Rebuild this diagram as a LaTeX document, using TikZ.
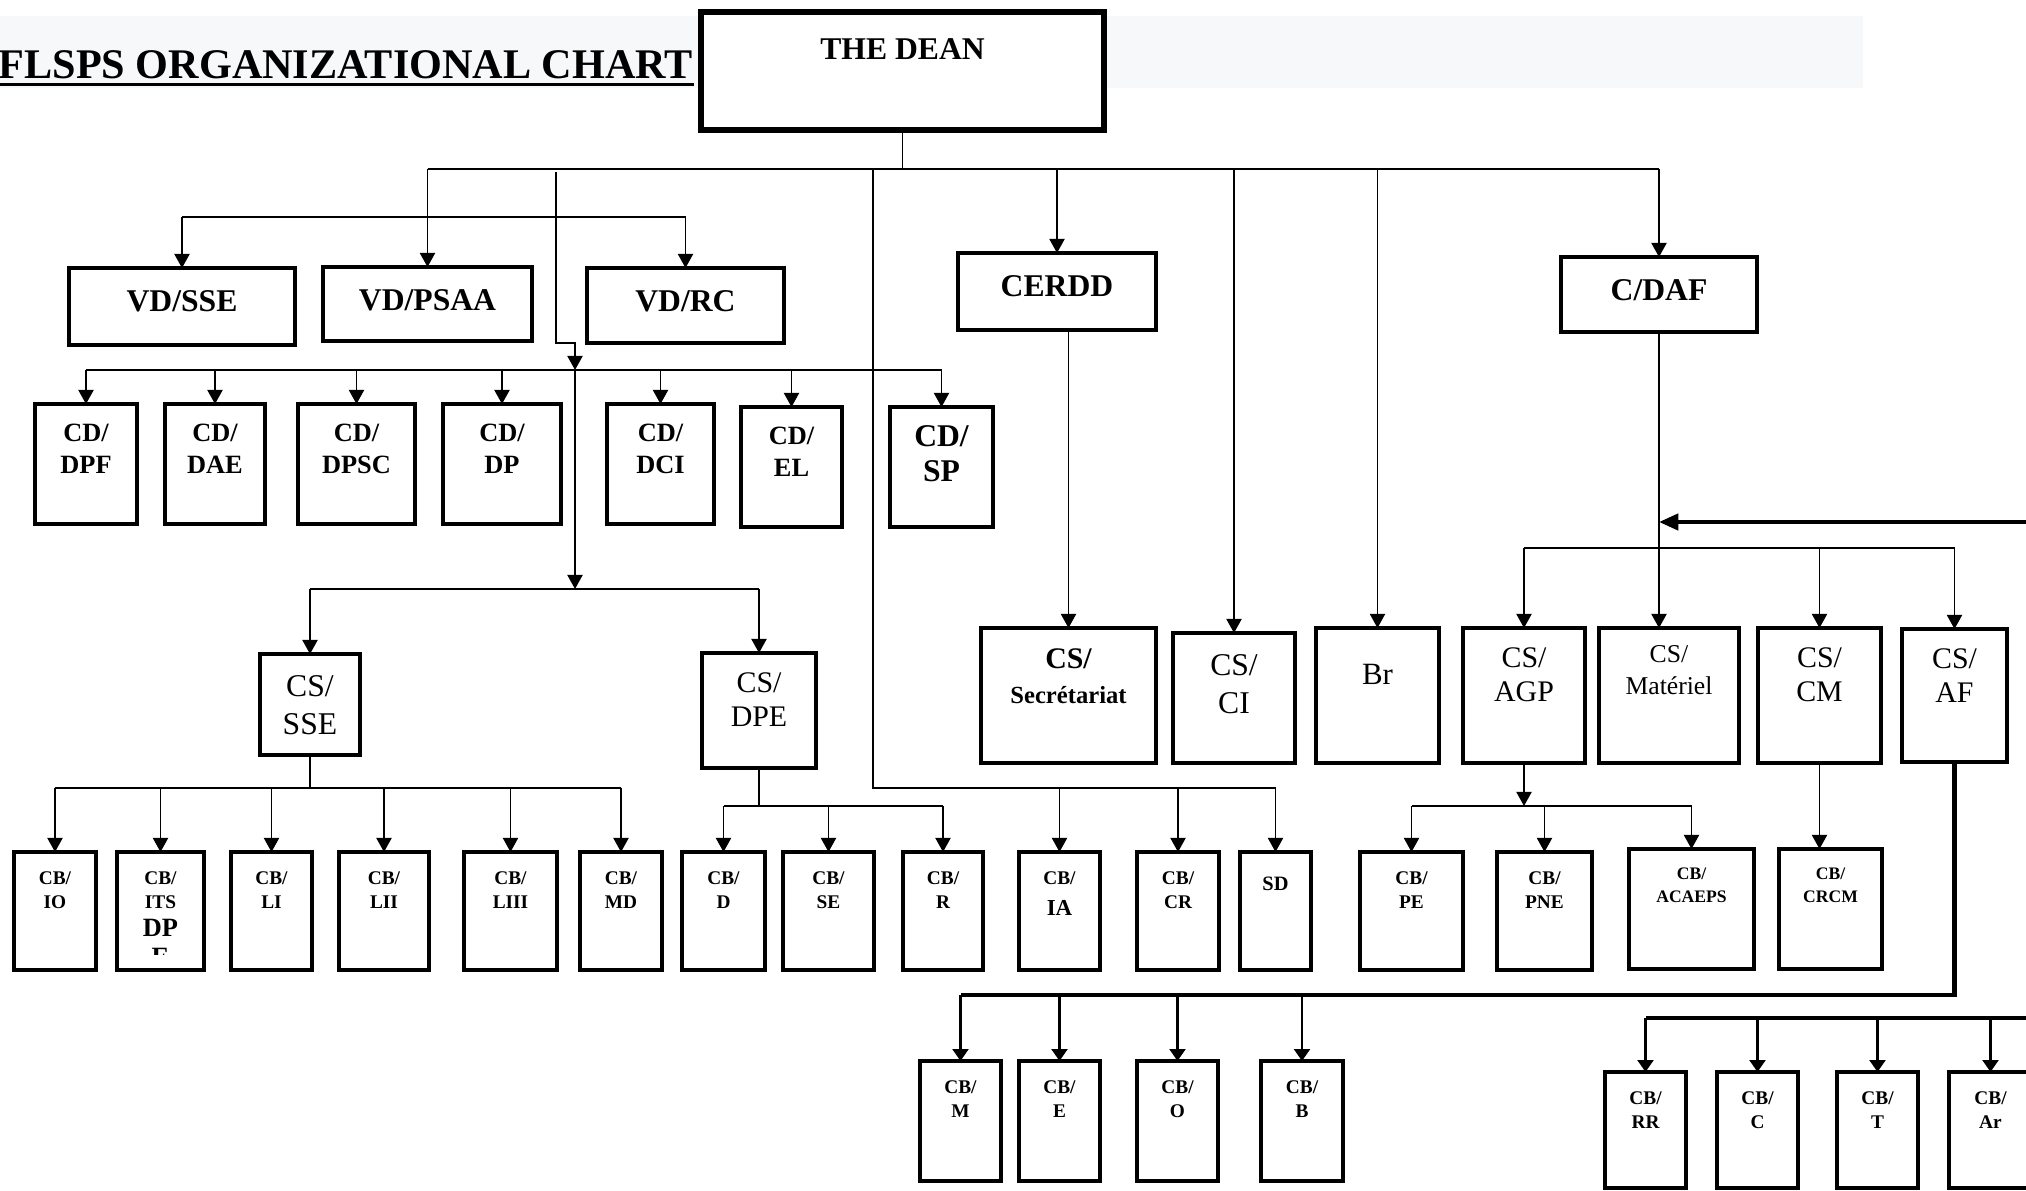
\documentclass[tikz,border=0pt]{standalone}
\usepackage{fontspec}
\setmainfont{Liberation Serif}
\usetikzlibrary{arrows.meta}
\definecolor{bandgray}{RGB}{247,248,250}
\newcommand{\px}{0.01cm}
\newcommand{\unitbox}[7][cbtxt]{\node[orgbox, minimum width={(#5-#3)*\px}, minimum height={(#6-#4)*\px}, label={[boxtext,#1]north:{#7}}] (#2) at ({(#3+#5)/2},{(#4+#6)/2}) {};}
\tikzset{
  orgbox/.style={draw, line width=1.1pt, fill=white, inner sep=0pt, outer sep=0pt},
  boxtext/.style={anchor=north, align=center, inner sep=0pt},
  link/.style={line width=0.5pt},
  arr/.style={link, -{Triangle[length=4pt,width=4.3pt]}},
  fat/.style={line width=1.15pt},
  fatarr/.style={fat, -{Triangle[length=5.5pt,width=4.6pt]}},
  droparr/.style={line width=0.75pt, -{Triangle[length=3.4pt,width=4.5pt]}},
  titletxt/.style={font=\bfseries\fontsize{12}{14}\selectfont, inner sep=0pt},
  deantxt/.style={font=\bfseries\fontsize{9}{11}\selectfont, yshift=-7.4pt},
  headtxt/.style={font=\bfseries\fontsize{9}{11}\selectfont, yshift=-6.3pt},
  cdtxt/.style={font=\bfseries\fontsize{7.5}{9.1}\selectfont, yshift=-5.4pt},
  sptxt/.style={font=\bfseries\fontsize{9}{10}\selectfont, yshift=-5.1pt},
  cstxt/.style={font=\fontsize{9}{10.8}\selectfont, yshift=-5.8pt},
  cssmall/.style={font=\fontsize{8.5}{9.8}\selectfont, yshift=-5.4pt},
  mattxt/.style={font=\fontsize{7.3}{9.1}\selectfont, yshift=-4.8pt},
  brtxt/.style={font=\fontsize{8.8}{10}\selectfont, yshift=-10pt},
  sectxt/.style={font=\bfseries\fontsize{7}{10}\selectfont, yshift=-5.7pt},
  cbtxt/.style={font=\bfseries\fontsize{5.5}{6.8}\selectfont, yshift=-5.3pt},
  cbsmall/.style={font=\bfseries\fontsize{5}{6.5}\selectfont, yshift=-5.3pt},
  sdtxt/.style={font=\bfseries\fontsize{5.8}{7}\selectfont, yshift=-6.8pt},
}

\begin{document}
\begin{tikzpicture}[x=\px, y=-\px]
        \useasboundingbox (0,0) rectangle (2026,1191);
        \fill[bandgray] (0,16) rectangle (1863,88);
        \node[titletxt, anchor=base west] (title) at (-2,79) {FLSPS ORGANIZATIONAL CHART};
        \draw[line width=0.95pt] ([yshift=-1.6pt]title.base west) -- ([yshift=-1.6pt]title.base east);
        \node[orgbox, line width=1.9pt, minimum width={403*\px}, minimum height={118*\px}, label={[boxtext,deantxt]north:{THE DEAN}}] (dean) at (902.5,71) {};

        \unitbox[headtxt]{vdsse}{69}{268}{295}{345}{VD/SSE}
        \unitbox[headtxt]{vdpsaa}{323}{267}{532}{341}{VD/PSAA}
        \unitbox[headtxt]{vdrc}{587}{268}{784}{343}{VD/RC}
        \unitbox[headtxt]{cerdd}{958}{253}{1156}{330}{CERDD}
        \unitbox[headtxt]{cdaf}{1561}{257}{1757}{332}{C/DAF}

        \unitbox[cdtxt]{dpf}{35}{404}{137}{524}{CD/\\DPF}
        \unitbox[cdtxt]{dae}{165}{404}{265}{524}{CD/\\DAE}
        \unitbox[cdtxt]{dpsc}{298}{404}{415}{524}{CD/\\DPSC}
        \unitbox[cdtxt]{dp}{443}{404}{561}{524}{CD/\\DP}
        \unitbox[cdtxt]{dci}{607}{404}{714}{524}{CD/\\DCI}
        \unitbox[cdtxt]{el}{741}{407}{842}{527}{CD/\\EL}
        \unitbox[sptxt]{sp}{890}{407}{993}{527}{CD/\\SP}

        \unitbox[cstxt]{sse}{260}{654}{360}{755}{CS/\\SSE}
        \unitbox[cssmall]{dpe}{702}{653}{816}{768}{CS/\\DPE}
        \unitbox[sectxt]{sec}{981}{628}{1156}{763}{{\fontsize{8.5}{10}\selectfont CS/}\\Secrétariat}
        \unitbox[cstxt]{ci}{1173}{633}{1295}{763}{CS/\\CI}
        \unitbox[brtxt]{br}{1316}{628}{1439}{763}{Br}
        \unitbox[cssmall]{agp}{1463}{628}{1585}{763}{CS/\\AGP}
        \unitbox[mattxt]{mat}{1599}{628}{1739}{763}{CS/\\Matériel}
        \unitbox[cssmall]{cm}{1758}{628}{1881}{763}{CS/\\CM}
        \unitbox[cssmall]{af}{1902}{629}{2007}{762}{CS/\\AF}

        \unitbox{cbio}{14}{852}{96}{970}{CB/\\IO}
        \unitbox{cbits}{117}{852}{204}{970}{CB/\\ITS\\[1.2pt]{\fontsize{7.5}{8}\selectfont DP}\\[1.5pt]{\fontsize{7.5}{8}\selectfont E}}
        \fill[white] (120,955) rectangle (201,968);
        \unitbox{cbli}{231}{852}{312}{970}{CB/\\LI}
        \unitbox{cblii}{339}{852}{429}{970}{CB/\\LII}
        \unitbox{cbliii}{464}{852}{557}{970}{CB/\\LIII}
        \unitbox{cbmd}{580}{852}{662}{970}{CB/\\MD}
        \unitbox{cbd}{682}{852}{765}{970}{CB/\\D}
        \unitbox{cbse}{783}{852}{874}{970}{CB/\\SE}
        \unitbox{cbr}{903}{852}{983}{970}{CB/\\R}
        \unitbox{cbia}{1019}{852}{1100}{970}{CB/\\[2.2pt]{\fontsize{6.5}{7}\selectfont IA}}
        \unitbox{cbcr}{1137}{852}{1219}{970}{CB/\\CR}
        \unitbox[sdtxt]{sd}{1240}{852}{1311}{970}{SD}
        \unitbox{cbpe}{1360}{852}{1463}{970}{CB/\\PE}
        \unitbox{cbpne}{1497}{852}{1592}{970}{CB/\\PNE}
        \unitbox[cbsmall]{cbacaeps}{1629}{849}{1754}{969}{CB/\\ACAEPS}
        \unitbox[cbsmall]{cbcrcm}{1779}{849}{1882}{969}{CB/\\CRCM}

        \unitbox{cbm}{920}{1061}{1001}{1181}{CB/\\M}
        \unitbox{cbe}{1019}{1061}{1100}{1181}{CB/\\E}
        \unitbox{cbo}{1137}{1061}{1218}{1181}{CB/\\O}
        \unitbox{cbb}{1261}{1061}{1343}{1181}{CB/\\B}
        \unitbox{cbrr}{1605}{1072}{1686}{1188}{CB/\\RR}
        \unitbox{cbc}{1717}{1072}{1798}{1188}{CB/\\C}
        \unitbox{cbt}{1837}{1072}{1918}{1188}{CB/\\T}
        \unitbox{cbar}{1949}{1072}{2032}{1188}{CB/\\Ar}

        \coordinate (deanbus) at (0,169);
        \coordinate (vdbus) at (0,217);
        \coordinate (cdbus) at (0,370);
        \coordinate (csbus) at (0,589);
        \coordinate (dafbus) at (0,548);
        \coordinate (ssebus) at (0,788);
        \coordinate (dpebus) at (0,806);
        \coordinate (afbus) at (0,995);
        \coordinate (vdtap) at (556,172);
        \coordinate (cstap) at (575,370);
        \coordinate (cbtap) at (873,169);
        \coordinate (feedin) at (2040,522);
        \coordinate (rrin) at (2040,1018);

        \draw[link] (dean.south) -- (dean.south |- deanbus);
        \draw[link] (deanbus -| vdpsaa.north) -- (deanbus -| cdaf.north);
        \foreach \n in {vdpsaa,cerdd,ci,br,cdaf} \draw[arr] (deanbus -| \n.north) -- (\n.north);
        \draw[link] (vdbus -| vdsse.north) -- (vdbus -| vdrc.north);
        \foreach \n in {vdsse,vdrc} \draw[arr] (vdbus -| \n.north) -- (\n.north);

        \draw[arr] (vdtap) |- ([yshift=27*\px]cstap) -- (cstap);
        \draw[link] (cdbus -| dpf.north) -- (cdbus -| sp.north);
        \foreach \n in {dpf,dae,dpsc,dp,dci,el,sp} \draw[arr] (cdbus -| \n.north) -- (\n.north);
        \draw[arr] (cstap) -- (cstap |- csbus);
        \draw[link] (csbus -| sse.north) -- (csbus -| dpe.north);
        \foreach \n in {sse,dpe} \draw[arr] (csbus -| \n.north) -- (\n.north);

        \draw[link] (sse.south) -- (sse.south |- ssebus);
        \draw[link] (ssebus -| cbio.north) -- (ssebus -| cbmd.north);
        \foreach \n in {cbio,cbits,cbli,cblii,cbliii,cbmd} \draw[arr] (ssebus -| \n.north) -- (\n.north);
        \draw[link] (dpe.south) -- (dpe.south |- dpebus);
        \draw[link] (dpebus -| cbd.north) -- (dpebus -| cbr.north);
        \foreach \n in {cbd,cbse,cbr} \draw[arr] (dpebus -| \n.north) -- (\n.north);
        \draw[link] (cbtap) |- (ssebus -| sd.north);
        \foreach \n in {cbia,cbcr,sd} \draw[arr] (ssebus -| \n.north) -- (\n.north);

        \draw[arr] (cerdd.south -| sec.north) -- (sec.north);
        \draw[arr] (cdaf.south) -- (cdaf.south |- mat.north);
        \draw[fatarr] (feedin) -- (feedin -| cdaf.south);
        \draw[link] (dafbus -| agp.north) -- (dafbus -| af.north);
        \foreach \n in {agp,cm,af} \draw[arr] (dafbus -| \n.north) -- (\n.north);
        \draw[arr] (agp.south) -- (agp.south |- dpebus);
        \draw[link] (dpebus -| cbpe.north) -- (dpebus -| cbacaeps.north);
        \foreach \n in {cbpe,cbpne,cbacaeps} \draw[arr] (dpebus -| \n.north) -- (\n.north);
        \draw[arr] (cm.south) -- (cm.south |- cbcrcm.north);

        \draw[fat] (af.south) |- (afbus -| cbm.north);
        \foreach \n in {cbm,cbe,cbo,cbb} \draw[droparr] (afbus -| \n.north) -- (\n.north);
        \draw[fat] (rrin) -- (rrin -| cbrr.north);
        \foreach \n in {cbrr,cbc,cbt,cbar} \draw[droparr] (rrin -| \n.north) -- (\n.north);
\end{tikzpicture}
\end{document}
